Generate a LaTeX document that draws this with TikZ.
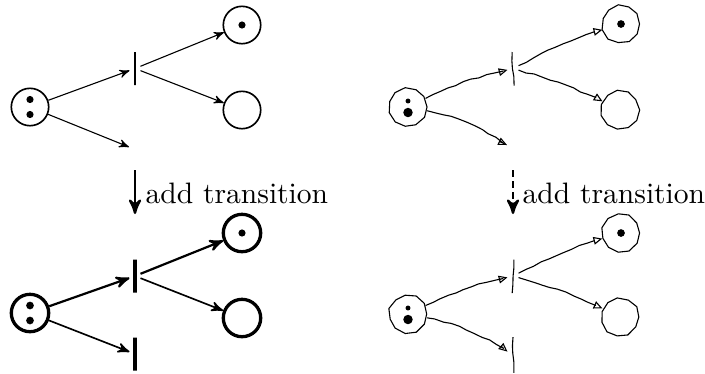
\documentclass[tikz,border=0pt]{standalone}
\usepackage{xcolor}
\usepackage{amsmath}
\usepackage{tikz}
\usetikzlibrary{arrows,arrows.meta,decorations.pathmorphing}

\begin{document}
\begin{tikzpicture}[x=0.3636pt,y=-0.3636pt,>=stealth',auto,
    place/.style={circle,draw,semithick,minimum size=13.6pt,inner sep=0pt},
    trans/.style={rectangle,draw,semithick,minimum width=0pt,minimum height=12pt,inner sep=0pt,outer sep=2pt},
    sketch/.style={decorate,decoration={random steps,segment length=3pt,amplitude=.3pt}},
    sketch place/.style={place,draw=none},
    sketch ring/.style={thin,shift={(#1.center)}},
    sketch arrow/.style={-{Triangle[open,length=3.2pt,width=2.8pt]},thin,sketch},
    label text/.style={anchor=base west,inner sep=0pt,font=\fontsize{10.75}{13}\selectfont},
    token/.style={fill=black}]
  \pgfmathsetseed{11}
  \useasboundingbox (0,0) rectangle (705,373);

  % plain net, before
  \node[place] (a0) at (30,107) {};
  \node[trans] (a1) at (135,68.5) {};
  \node[place] (a3) at (242,25) {};
  \node[place] (a2) at (242,110) {};
  \coordinate (a4) at (129,147);
  \fill[token] (a0) ++(0,-7.5) circle (1.3pt) (a0) ++(0,7.5) circle (1.3pt);
  \fill[token] (a3) circle (1.3pt);
  \draw[->] (a0) -- (a1);
  \draw[->] (a1) -- (a3);
  \draw[->] (a1) -- (a2);
  \draw[->] (a0) -- (a4);

  \draw[->,line width=.9pt] (135,170) -- (135,214);
  \node[label text] (a5) at (145,203) {add transition};

  % plain net, after
  \node[place,very thick] (b0) at (30,313) {};
  \node[trans,very thick] (b1) at (135,276) {};
  \node[place,very thick] (b3) at (242,233) {};
  \node[place,very thick] (b2) at (242,318) {};
  \node[trans,very thick] (b4) at (135,354) {};
  \fill[token] (b0) ++(0,-7.5) circle (1.4pt) (b0) ++(0,7.5) circle (1.4pt);
  \fill[token] (b3) circle (1.3pt);
  \draw[->,thick] (b0) -- (b1);
  \draw[->,thick] (b1) -- (b3);
  \draw[->,semithick] (b1) -- (b2);
  \draw[->,semithick] (b0) -- (b4);

  % sketched net, before
  \node[sketch place] (c0) at (408,107) {};
  \node[trans,draw=none] (c1) at (513,68.5) {};
  \node[sketch place] (c3) at (621,24) {};
  \node[sketch place] (c2) at (620,110) {};
  \coordinate (c4) at (507,145);
  \foreach \p in {c0,c2,c3}
    \draw[sketch ring=\p] plot[sharp cycle,samples=11,domain=0:327.27,variable=\t] (\t:{(7+0.3*rand)*1pt});
  \draw[thin,sketch] ([yshift=6pt,xshift=-.3pt]c1.center) -- ([yshift=-6.2pt,xshift=.4pt]c1.center);
  \fill[token] (c0) ++(0,-6) circle (0.9pt);
  \filldraw[token] (c0) ++(0,5.5) circle (1.5pt);
  \fill[token] (c3) circle (1.4pt);
  \draw[sketch arrow] (c0) to[bend left=6] (c1);
  \draw[sketch arrow] (c1) to[bend left=5] (c3);
  \draw[sketch arrow] (c1) to[bend left=5] (c2);
  \draw[sketch arrow] (c0) to[bend left=10] (c4);

  \draw[->,line width=.9pt,dash pattern=on 2.5pt off 1.5pt] (513,170) -- (513,214);
  \node[label text] (c5) at (522,203) {add transition};

  % sketched net, after
  \node[sketch place] (d0) at (408,314) {};
  \node[trans,draw=none] (d1) at (513,276) {};
  \node[sketch place] (d3) at (621,233) {};
  \node[sketch place] (d2) at (620,317) {};
  \node[trans,draw=none] (d4) at (513,355) {};
  \foreach \p in {d0,d2,d3}
    \draw[sketch ring=\p] plot[sharp cycle,samples=11,domain=0:327.27,variable=\t] (\t:{(7+0.3*rand)*1pt});
  \draw[thin,sketch] ([yshift=6pt,xshift=.3pt]d1.center) -- ([yshift=-6.2pt,xshift=-.3pt]d1.center);
  \draw[thin,sketch] ([yshift=6.5pt]d4.center) -- ([yshift=-6.5pt,xshift=.3pt]d4.center);
  \fill[token] (d0) ++(0,-6) circle (0.9pt);
  \filldraw[token] (d0) ++(0,5.5) circle (1.5pt);
  \fill[token] (d3) circle (1.4pt);
  \draw[sketch arrow] (d0) to[bend left=6] (d1);
  \draw[sketch arrow] (d1) to[bend left=5] (d3);
  \draw[sketch arrow] (d1) to[bend left=5] (d2);
  \draw[sketch arrow] (d0) to[bend left=10] (d4);
\end{tikzpicture}
\end{document}
